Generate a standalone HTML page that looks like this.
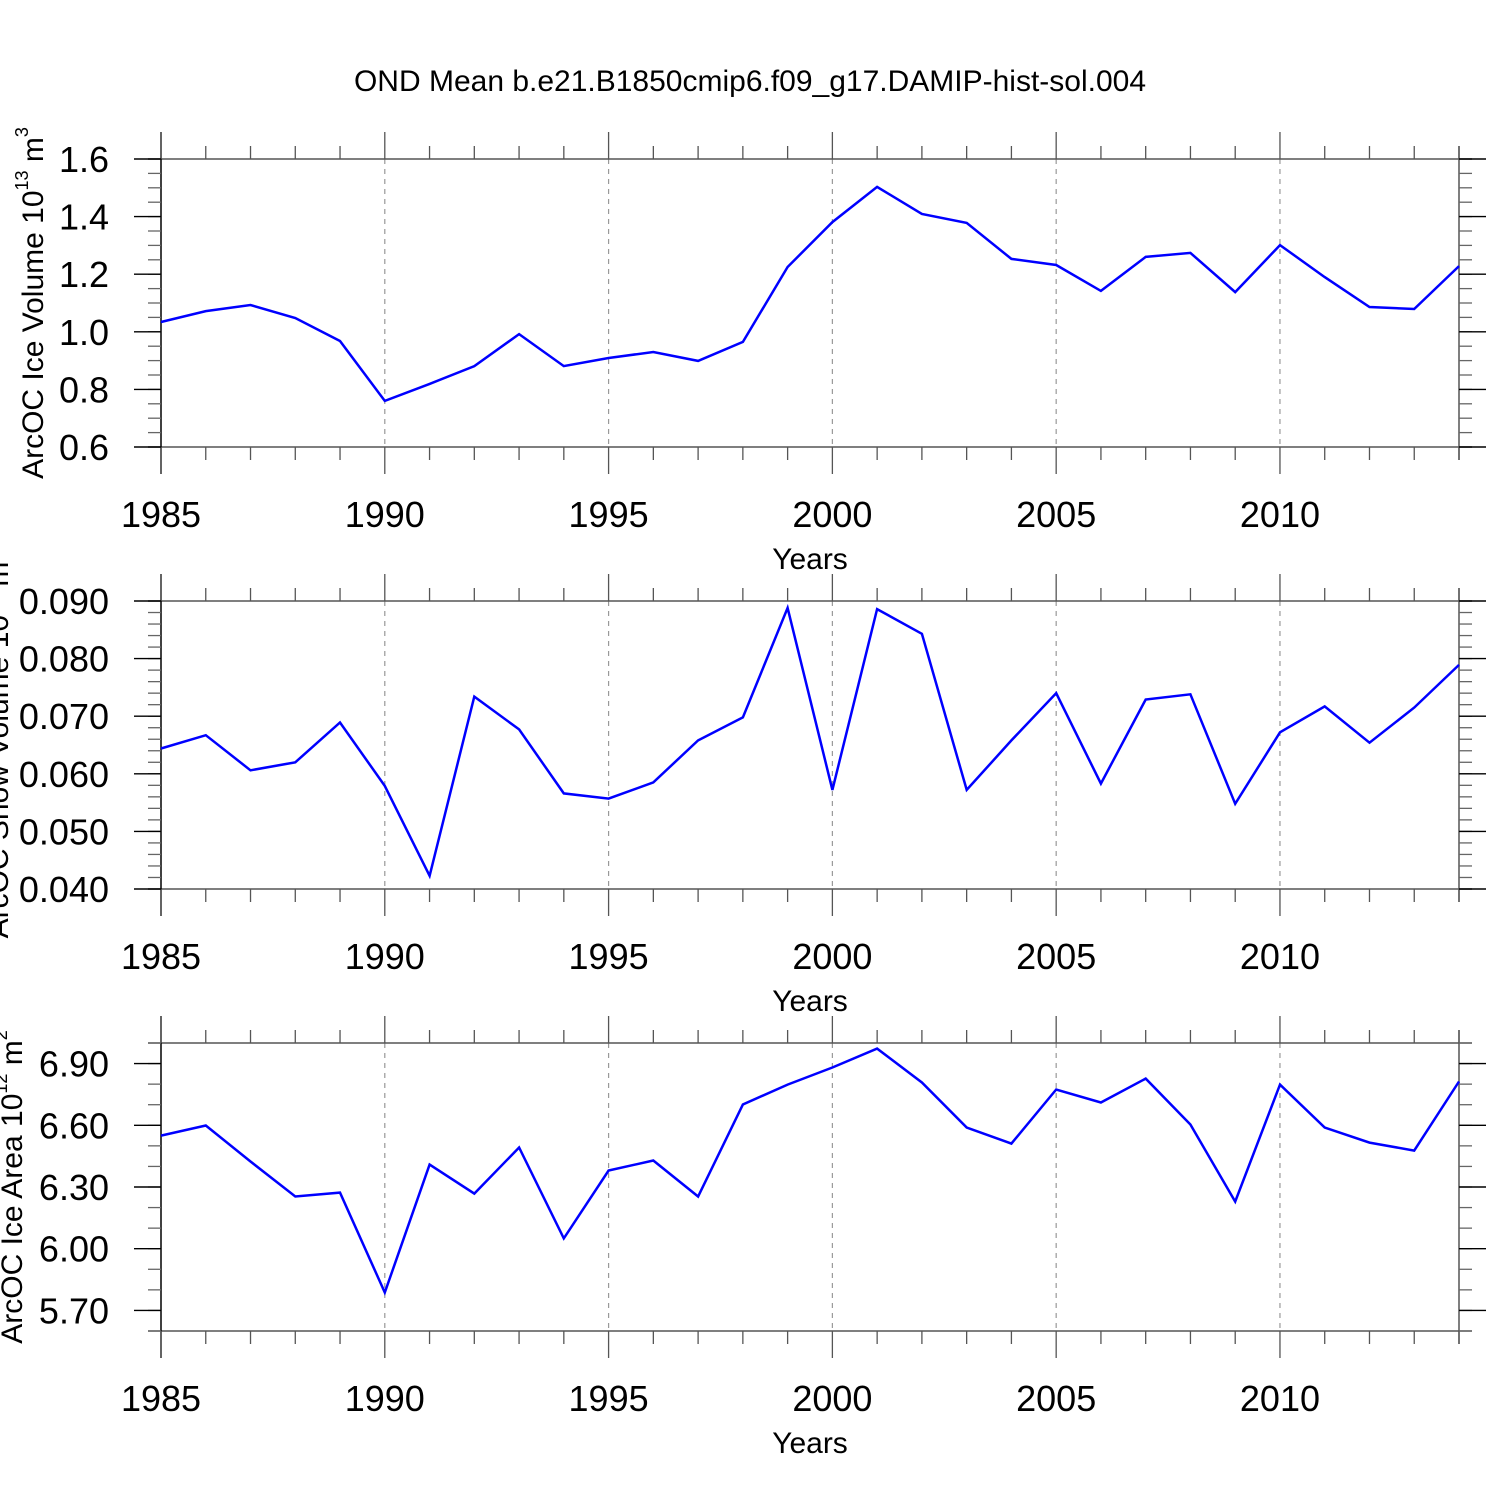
<!DOCTYPE html>
<html><head><meta charset="utf-8"><style>
html,body{margin:0;padding:0;background:#fff}
svg{display:block;font-family:"Liberation Sans",sans-serif}
</style></head><body>
<svg id="c" width="1500" height="1500" viewBox="0 0 1500 1500">
<text x="750" y="91" font-size="30" text-anchor="middle">OND Mean b.e21.B1850cmip6.f09_g17.DAMIP-hist-sol.004</text>
</svg>
<script>
const years = [1985,1986,1987,1988,1989,1990,1991,1992,1993,1994,1995,1996,1997,1998,1999,2000,2001,2002,2003,2004,2005,2006,2007,2008,2009,2010,2011,2012,2013,2014];
const iceVolume = [1.034,1.072,1.093,1.048,0.968,0.760,0.819,0.881,0.992,0.881,0.909,0.930,0.899,0.965,1.225,1.381,1.503,1.409,1.378,1.253,1.232,1.142,1.260,1.274,1.138,1.301,1.190,1.086,1.079,1.228];
const snowVolume = [0.0644,0.0667,0.0606,0.0620,0.0689,0.0579,0.0423,0.0734,0.0677,0.0566,0.0557,0.0585,0.0658,0.0698,0.0888,0.0572,0.0886,0.0843,0.0572,0.0658,0.0740,0.0583,0.0729,0.0738,0.0548,0.0672,0.0717,0.0654,0.0715,0.0789];
const iceArea = [6.550,6.599,6.424,6.254,6.273,5.787,6.409,6.268,6.492,6.050,6.380,6.429,6.254,6.701,6.798,6.881,6.973,6.808,6.589,6.511,6.774,6.711,6.827,6.604,6.229,6.798,6.589,6.516,6.477,6.813];
const xTickLabels = ["1985","1990","1995","2000","2005","2010"];
const volTicks = ["0.6","0.8","1.0","1.2","1.4","1.6"];
const snowTicks = ["0.040","0.050","0.060","0.070","0.080","0.090"];
const areaTicks = ["5.70","6.00","6.30","6.60","6.90"];

const NS="http://www.w3.org/2000/svg";
const svg=document.getElementById('c');
const X0=161,X1=1459;
function xs(y){return X0+(y-1985)/(2014-1985)*(X1-X0);}
function mk(tag,attrs,parent){const e=document.createElementNS(NS,tag);for(const k in attrs)e.setAttribute(k,attrs[k]);(parent||svg).appendChild(e);return e;}

function panel(name,top,ymin,ymax,ticks,minorStep,data,ylabel,sup,unit,ylabelX){
  const bot=top+288;
  const g=mk('g',{});
  
  
  const ys=v=>bot-(v-ymin)/(ymax-ymin)*288;
  for(let yr=1990;yr<=2010;yr+=5){
    const l=mk('line',{x1:xs(yr),x2:xs(yr),y1:top,y2:bot,stroke:'#999','stroke-width':1.2,'stroke-dasharray':'5,5'},g);
    
    
  }
  mk('line',{x1:X0-13,x2:X1+13,y1:top,y2:top,stroke:'#555','stroke-width':1.5},g);
  mk('line',{x1:X0-13,x2:X1+13,y1:bot,y2:bot,stroke:'#555','stroke-width':1.5},g);
  mk('line',{x1:X0,x2:X0,y1:top-27,y2:bot+27,stroke:'#000','stroke-width':1.5},g);
  mk('line',{x1:X1,x2:X1,y1:top-13,y2:bot+13,stroke:'#555','stroke-width':1.5},g);
  years.forEach(yr=>{
    const maj=(yr%5===0);const L=maj?27:13;const x=xs(yr);
    mk('line',{x1:x,x2:x,y1:top-L,y2:top,stroke:'#555','stroke-width':1.3},g);
    mk('line',{x1:x,x2:x,y1:bot,y2:bot+L,stroke:'#555','stroke-width':1.3},g);
  });
  for(let v=ymin;v<=ymax+1e-9;v+=minorStep){
    const y=ys(v);
    mk('line',{x1:X0-13,x2:X0,y1:y,y2:y,stroke:'#666','stroke-width':1.3},g);
    mk('line',{x1:X1,x2:X1+13,y1:y,y2:y,stroke:'#666','stroke-width':1.3},g);
  }
  ticks.forEach(t=>{
    const y=ys(parseFloat(t));
    mk('line',{x1:X0-27,x2:X0,y1:y,y2:y,stroke:'#000','stroke-width':1.4},g);
    mk('line',{x1:X1,x2:X1+27,y1:y,y2:y,stroke:'#000','stroke-width':1.4},g);
    const tx=mk('text',{x:109,y:y+13,'font-size':36,'text-anchor':'end'},g);
    tx.textContent=t;
    
    
  });
  xTickLabels.forEach(t=>{
    const tx=mk('text',{x:xs(+t),y:bot+80,'font-size':36,'text-anchor':'middle'},g);
    tx.textContent=t;
    
    
  });
  const xt=mk('text',{x:810,y:bot+122,'font-size':30,'text-anchor':'middle'},g);
  xt.textContent='Years';
  
  
  const cy=(top+bot)/2;
  const yt=mk('text',{x:0,y:0,'font-size':30,'text-anchor':'middle',transform:`translate(${ylabelX},${cy}) rotate(-90)`},g);
  
  
  yt.appendChild(document.createTextNode(ylabel+' 10'));
  const s1=mk('tspan',{'font-size':18,dy:-15},yt);s1.textContent=sup;
  const s2=mk('tspan',{dy:15},yt);s2.textContent=' m';
  const s3=mk('tspan',{'font-size':18,dy:-15},yt);s3.textContent=unit;
  const pts=data.map((v,i)=>xs(years[i]).toFixed(1)+','+ys(v).toFixed(1)).join(' ');
  const pl=mk('polyline',{points:pts,fill:'none',stroke:'#0000ff','stroke-width':2.5,'stroke-linejoin':'miter'},g);
  
  
}
panel('ice-volume',159,0.6,1.6,volTicks,0.05,iceVolume,'ArcOC Ice Volume','13','3',43);
panel('snow-volume',601,0.04,0.09,snowTicks,0.002,snowVolume,'ArcOC Snow Volume','13','3',8);
panel('ice-area',1043,5.6,7.0,areaTicks,0.1,iceArea,'ArcOC Ice Area','12','2',22);
</script>
</body></html>
